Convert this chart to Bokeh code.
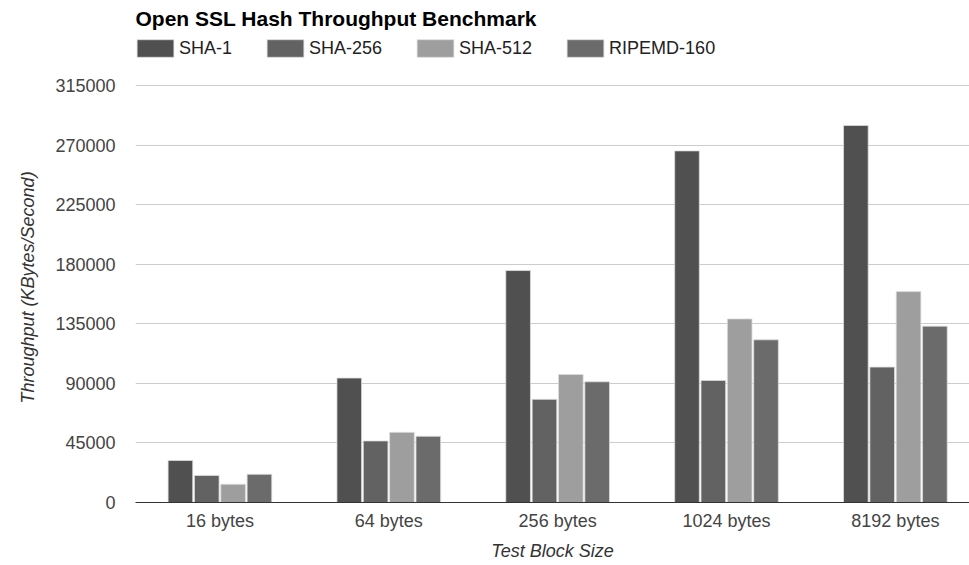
from bokeh.plotting import figure
from bokeh.models import (ColumnDataSource, FixedTicker, NumeralTickFormatter, Range1d,
                          Legend, LegendItem, Label, Title)
from bokeh.embed import file_html
from bokeh.resources import INLINE

categories = ["16 bytes", "64 bytes", "256 bytes", "1024 bytes", "8192 bytes"]
series_names = ["SHA-1", "SHA-256", "SHA-512", "RIPEMD-160"]
sha1 = [31700, 94000, 175200, 265600, 284800]
sha256 = [20400, 46500, 77900, 92200, 102300]
sha512 = [13800, 53000, 96700, 138700, 159300]
ripemd160 = [21300, 50000, 91200, 122900, 133200]
y_ticks = [0, 45000, 90000, 135000, 180000, 225000, 270000, 315000]
title_text = "Open SSL Hash Throughput Benchmark"
x_title = "Test Block Size"
y_title = "Throughput (KBytes/Second)"

colors = ["#505050", "#626262", "#9e9e9e", "#6b6b6b"]
series = [sha1, sha256, sha512, ripemd160]

FONT = "Liberation Sans"
Y_END = 379200         # frame also holds title + legend; 315000 sits at the top gridline
X_END = 4.939

p = figure(width=969, height=565, output_backend="svg", toolbar_location=None,
           x_range=Range1d(0, X_END), y_range=Range1d(0, Y_END),
           min_border_left=0, min_border_right=0, min_border_top=0, min_border_bottom=63)
p.title.text = ""
p.outline_line_color = None
p.background_fill_color = "white"
p.border_fill_color = "white"

pitch = 0.156
bw = 0.146
centers = [i + 0.5 for i in range(len(categories))]
items = []
for k, (name, vals, col) in enumerate(zip(series_names, series, colors)):
    xs = [c + (k - 1.5) * pitch for c in centers]
    src = ColumnDataSource(dict(x=xs, top=vals))
    r = p.vbar(x="x", top="top", bottom=0, width=bw, source=src,
               fill_color=col, line_color="#dddddd", line_width=0.8)
    items.append(LegendItem(label=name, renderers=[r]))

# x axis
p.xaxis.ticker = FixedTicker(ticks=centers)
p.xaxis.major_label_overrides = {c: lab for c, lab in zip(centers, categories)}
p.xaxis.major_tick_out = 0
p.xaxis.major_tick_in = 0
p.xaxis.major_tick_line_color = None
p.xaxis.minor_tick_line_color = None
p.xaxis.axis_line_color = "#333333"
p.xaxis.axis_line_width = 1
p.xaxis.major_label_text_font = FONT
p.xaxis.major_label_text_font_size = "18px"
p.xaxis.major_label_text_color = "#444444"
p.xaxis.major_label_standoff = 8
p.xaxis.axis_label = x_title
p.xaxis.axis_label_text_font = FONT
p.xaxis.axis_label_text_font_size = "18px"
p.xaxis.axis_label_text_font_style = "italic"
p.xaxis.axis_label_text_color = "#333333"
p.xaxis.axis_label_standoff = 7

# y axis
p.yaxis.ticker = FixedTicker(ticks=y_ticks)
p.yaxis.formatter = NumeralTickFormatter(format="0")
p.yaxis.major_tick_out = 0
p.yaxis.major_tick_in = 0
p.yaxis.major_tick_line_color = None
p.yaxis.minor_tick_line_color = None
p.yaxis.axis_line_color = None
p.yaxis.major_label_text_font = FONT
p.yaxis.major_label_text_font_size = "18px"
p.yaxis.major_label_text_color = "#444444"
p.yaxis.major_label_standoff = 20

# y axis title as a side title: starts 99px above the baseline, like the reference
p.add_layout(Title(text=y_title, align="left", offset=99, standoff=30,
                   text_font=FONT, text_font_size="18px", text_font_style="italic",
                   text_color="#333333"), "left")

p.xgrid.grid_line_color = None
p.ygrid.grid_line_color = "#cccccc"
p.ygrid.grid_line_width = 1

legend = Legend(items=items, orientation="horizontal", location=(-3, 443),
                glyph_width=46, glyph_height=22, label_standoff=1, spacing=30,
                padding=0, margin=0, border_line_color=None,
                background_fill_alpha=0,
                label_text_font=FONT, label_text_font_size="18px",
                label_text_color="#222222", label_height=18)
p.add_layout(legend, "center")

p.add_layout(Label(x=0, y=483.8, x_units="screen", y_units="screen",
                   text=title_text, text_font=FONT, text_font_size="21px",
                   text_font_style="bold", text_color="#000000",
                   text_align="left", text_baseline="alphabetic"))

open("out.html", "w").write(file_html(p, INLINE))
